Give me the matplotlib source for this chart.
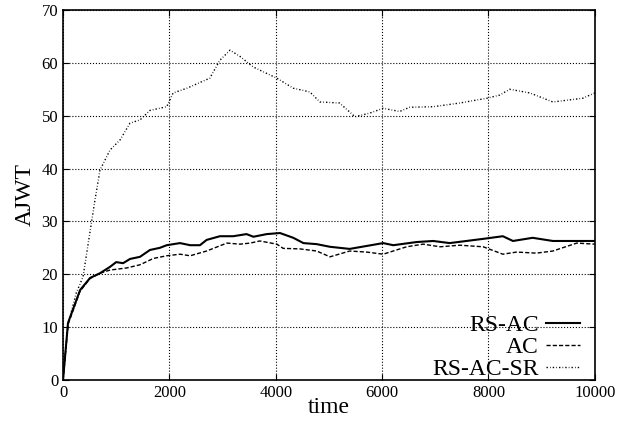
import numpy as np
import matplotlib.pyplot as plt

plt.rcParams['font.family'] = ['Liberation Serif', 'DejaVu Serif']

# values
t_rsac = [0, 94, 320, 508, 695, 883, 1000, 1130, 1260, 1447, 1635, 1820, 1950, 2200,
          2390, 2575, 2700, 2950, 3200, 3450, 3580, 3830, 4080, 4330, 4520, 4770,
          5020, 5390, 6020, 6210, 6650, 6960, 7270, 7900, 8270, 8460, 8830, 9210,
          9530, 10000]
y_rsac = [0, 10.8, 17.0, 19.3, 20.2, 21.4, 22.3, 22.1, 22.9, 23.3, 24.6, 25.0, 25.5, 25.9,
          25.5, 25.5, 26.5, 27.2, 27.2, 27.6, 27.1, 27.6, 27.8, 26.9, 25.9, 25.7,
          25.2, 24.8, 25.9, 25.5, 26.1, 26.3, 25.9, 26.7, 27.2, 26.3, 26.9, 26.3,
          26.3, 26.3]

t_ac = [0, 94, 320, 508, 695, 883, 1200, 1447, 1700, 1950, 2200, 2390, 2700, 3080,
        3330, 3520, 3700, 4020, 4140, 4455, 4770, 5020, 5390, 5710, 6020, 6460,
        6770, 7090, 7460, 7900, 8270, 8530, 8900, 9210, 9660, 10000]
y_ac = [0, 10.5, 16.8, 19.2, 20.2, 20.8, 21.2, 21.8, 23.0, 23.5, 23.8, 23.5, 24.4, 25.9,
        25.7, 25.9, 26.3, 25.7, 24.9, 24.8, 24.4, 23.3, 24.4, 24.2, 23.8, 25.2,
        25.7, 25.2, 25.5, 25.2, 23.8, 24.2, 24.0, 24.4, 25.9, 25.7]

t_sr = [0, 94, 250, 376, 600, 695, 883, 1071, 1260, 1447, 1635, 1950, 2070, 2330,
        2760, 2950, 3140, 3330, 3580, 3830, 4020, 4330, 4640, 4830, 5200, 5490,
        5770, 6020, 6330, 6520, 6960, 7460, 7970, 8210, 8400, 8780, 9210, 9770,
        10000]
y_sr = [0, 10.5, 16.5, 19.5, 34.0, 39.7, 43.5, 45.4, 48.6, 49.2, 51.0, 51.7, 54.3, 55.2,
        57.1, 60.5, 62.4, 61.2, 59.2, 58.0, 57.1, 55.2, 54.5, 52.6, 52.4, 49.8,
        50.5, 51.4, 50.8, 51.6, 51.7, 52.4, 53.3, 53.9, 55.0, 54.3, 52.6, 53.3,
        54.3]

fig = plt.figure(figsize=(6.19, 4.25), dpi=100)
ax = fig.add_axes([0.1018, 0.1059, 0.8592, 0.8706])

ax.plot(t_rsac, y_rsac, 'k-', lw=1.5, label='RS-AC')
ax.plot(t_ac, y_ac, 'k-', lw=1.0, dashes=(3, 1.5), label='AC')
ax.plot(t_sr, y_sr, 'k-', lw=1.0, dashes=(1, 1.5, 0.5, 1.5), label='RS-AC-SR')

ax.set_xlim(0, 10000)
ax.set_ylim(0, 70)
ax.set_xticks(np.arange(0, 10001, 2000))
ax.set_yticks(np.arange(0, 71, 10))
ax.tick_params(direction='in', top=True, right=True, labelsize=12, length=4)
ax.grid(True, color='black', linestyle=':', linewidth=0.8)
for s in ax.spines.values():
    s.set_linewidth(1.2)

ax.set_xlabel('time', fontsize=17, labelpad=-3)
ax.set_ylabel('AJWT', fontsize=17, labelpad=4)

leg = ax.legend(loc='lower right', fontsize=17, frameon=False, markerfirst=False,
                handlelength=1.45, handletextpad=0.3, labelspacing=0.02,
                borderaxespad=0, borderpad=0, bbox_to_anchor=(0.972, 0.0))
for txt in leg.get_texts():
    txt.set_ha('right')
leg._legend_box.align = 'right'

fig.savefig('out.png', dpi=100)
